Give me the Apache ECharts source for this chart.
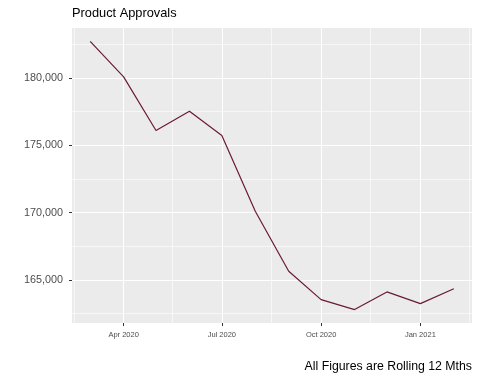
<!DOCTYPE html>
<html>
<head>
<meta charset="utf-8">
<script src="https://cdn.jsdelivr.net/npm/echarts@6/dist/echarts.min.js"></script>
<style>html,body{margin:0;padding:0;background:#fff}#c{width:480px;height:384px}</style>
</head>
<body>
<div id="c"></div>
<script>
// Data (monthly, first of month)
var months = ['2020-03-01','2020-04-01','2020-05-01','2020-06-01','2020-07-01','2020-08-01','2020-09-01','2020-10-01','2020-11-01','2020-12-01','2021-01-01','2021-02-01'];
var approvals = [182700, 180070, 176090, 177520, 175720, 170100, 165640, 163540, 162800, 164110, 163240, 164350];
var xBreaks = ['2020-04-01','2020-07-01','2020-10-01','2021-01-01'];
var xBreakLabels = ['Apr 2020','Jul 2020','Oct 2020','Jan 2021'];
var xMinorBreaks = ['2020-02-15','2020-05-16','2020-08-16','2020-11-16','2021-02-15'];
var yBreaks = [165000, 170000, 175000, 180000];
var yMinorBreaks = [162500, 167500, 172500, 177500, 182500];
var title = 'Product Approvals';
var caption = 'All Figures are Rolling 12 Mths';

function ts(s){ var p = s.split('-'); return Date.UTC(+p[0], +p[1]-1, +p[2]); }
var xs = months.map(ts);
var xMin0 = Math.min.apply(null, xs), xMax0 = Math.max.apply(null, xs);
var xPad = (xMax0 - xMin0) * 0.05;
var yMin0 = Math.min.apply(null, approvals), yMax0 = Math.max.apply(null, approvals);
var yPad = (yMax0 - yMin0) * 0.05;
var majorX = xBreaks.map(ts);
var labelMap = {};
majorX.forEach(function(t,i){ labelMap[t] = xBreakLabels[i]; });

var gridMajor = majorX.map(function(t){ return {xAxis: t}; })
  .concat(yBreaks.map(function(v){ return {yAxis: v}; }));
var gridMinor = xMinorBreaks.map(ts).map(function(t){ return {xAxis: t}; })
  .concat(yMinorBreaks.map(function(v){ return {yAxis: v}; }));

var font = '"Liberation Sans", Arial, Helvetica, sans-serif';
var chart = echarts.init(document.getElementById('c'), null, {renderer: 'canvas'});
chart.setOption({
  animation: false,
  textStyle: {fontFamily: font},
  title: [
    {text: title, left: 72, top: 7, padding: 0, textStyle: {fontFamily: font, fontSize: 12.8, fontWeight: 'normal', color: '#000'}},
    {text: caption, right: 8, top: 361, padding: 0, textStyle: {fontFamily: font, fontSize: 12.3, fontWeight: 'normal', color: '#000'}}
  ],
  grid: {left: 72, right: 8, top: 28, bottom: 61, show: true, backgroundColor: '#EBEBEB', borderWidth: 0},
  xAxis: {
    type: 'value', min: xMin0 - xPad, max: xMax0 + xPad,
    axisLine: {show: false},
    splitLine: {show: false},
    axisTick: {show: true, customValues: majorX, length: 3, lineStyle: {color: '#333', width: 1}},
    axisLabel: {customValues: majorX, margin: 8, fontSize: 7.5, color: '#4D4D4D', fontFamily: font,
      formatter: function(v){ return labelMap[v] || ''; }}
  },
  yAxis: {
    type: 'value', min: yMin0 - yPad, max: yMax0 + yPad,
    axisLine: {show: false},
    splitLine: {show: false},
    axisTick: {show: true, customValues: yBreaks, length: 3, lineStyle: {color: '#333', width: 1}},
    axisLabel: {customValues: yBreaks, margin: 9, fontSize: 10.8, color: '#4D4D4D', fontFamily: font,
      formatter: function(v){ return v.toLocaleString('en-US'); }}
  },
  series: [
    {type: 'line', data: [], z: 1, silent: true,
      markLine: {silent: true, symbol: 'none', label: {show: false}, animation: false,
        lineStyle: {color: '#FFFFFF', width: 0.6, type: 'solid'}, data: gridMinor}},
    {type: 'line', data: [], z: 1, silent: true,
      markLine: {silent: true, symbol: 'none', label: {show: false}, animation: false,
        lineStyle: {color: '#FFFFFF', width: 1.1, type: 'solid'}, data: gridMajor}},
    {type: 'line', z: 3, zlevel: 1, showSymbol: false, symbol: 'none',
      data: xs.map(function(t,i){ return [t, approvals[i]]; }),
      lineStyle: {color: '#6B1A35', width: 1.2}}
  ]
});
</script>
</body>
</html>
